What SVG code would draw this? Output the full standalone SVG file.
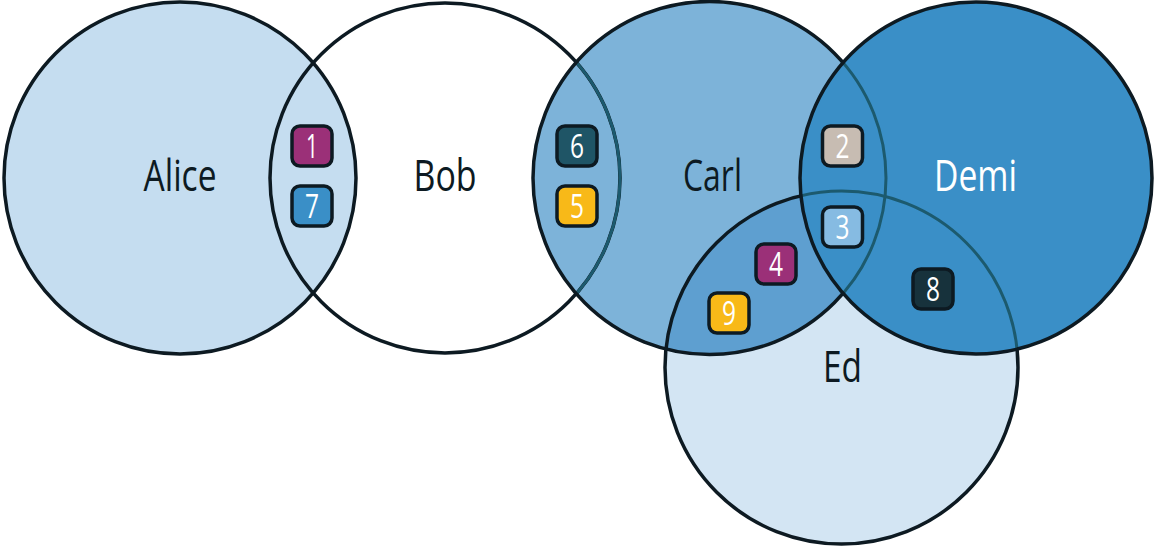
<svg xmlns="http://www.w3.org/2000/svg" width="1154" height="549" viewBox="0 0 1154 549">
<style>
.lbl{font-family:"Open Sans","DejaVu Sans",sans-serif;font-size:44px;text-anchor:middle}
.dark{fill:#0d1a22}
.light{fill:#ffffff}
.ring{fill:none;stroke:#0d1a22;stroke-width:3.5}
.under{fill:none;stroke:#1c5a6e;stroke-width:3}
.badge rect{stroke:#0d1a22;stroke-width:3.5}
.badge text{font-family:"Open Sans","DejaVu Sans",sans-serif;font-size:32px;fill:#ffffff;text-anchor:middle}
</style>
<defs>
<clipPath id="clipCarl"><circle cx="709.5" cy="178" r="176.5"/></clipPath>
<clipPath id="clipDemi"><circle cx="976" cy="178" r="176"/></clipPath>
</defs>
<rect width="1154" height="549" fill="#ffffff"/>
<g id="fills">
<circle cx="180" cy="178" r="176" fill="#c5ddf0"/>
<circle cx="709.5" cy="178" r="176.5" fill="#7db3d9"/>
<circle cx="841.5" cy="367.5" r="176.5" fill="#d3e5f3"/>
<circle cx="841.5" cy="367.5" r="176.5" fill="#5e9fd0" clip-path="url(#clipCarl)"/>
</g>
<g id="outlines">
<circle class="ring" cx="180" cy="178" r="176"/>
<circle class="ring" cx="445" cy="178" r="175"/>
<circle class="under" cx="445" cy="178" r="175" clip-path="url(#clipCarl)"/>
<circle class="ring" cx="709.5" cy="178" r="176.5"/>
<circle class="ring" cx="841.5" cy="367.5" r="176.5"/>
<circle cx="976" cy="178" r="176" fill="#3a8fc7"/>
<g clip-path="url(#clipDemi)">
<circle class="under" cx="709.5" cy="178" r="176.5"/>
<circle class="under" cx="841.5" cy="367.5" r="176.5"/>
</g>
<circle class="ring" cx="976" cy="178" r="176"/>
</g>
<g id="alice"><text class="lbl dark" x="180" y="191" textLength="73" lengthAdjust="spacingAndGlyphs">Alice</text></g>
<g id="bob"><text class="lbl dark" x="445" y="191" textLength="63" lengthAdjust="spacingAndGlyphs">Bob</text></g>
<g id="carl"><text class="lbl dark" x="712.5" y="191" textLength="59" lengthAdjust="spacingAndGlyphs">Carl</text></g>
<g id="demi"><text class="lbl light" x="975.5" y="191" textLength="83" lengthAdjust="spacingAndGlyphs">Demi</text></g>
<g id="ed"><text class="lbl dark" x="842.5" y="382" textLength="39" lengthAdjust="spacingAndGlyphs">Ed</text></g>
<g id="badge1" class="badge"><rect x="292" y="126" width="40" height="40" rx="8" fill="#9b3078"/><text x="312" y="158" textLength="12" lengthAdjust="spacingAndGlyphs">1</text></g>
<g id="badge7" class="badge"><rect x="292" y="186" width="40" height="40" rx="8" fill="#3a8fc7"/><text x="312" y="218" textLength="14" lengthAdjust="spacingAndGlyphs">7</text></g>
<g id="badge6" class="badge"><rect x="557" y="126" width="40" height="40" rx="8" fill="#1f5566"/><text x="577" y="158" textLength="14" lengthAdjust="spacingAndGlyphs">6</text></g>
<g id="badge5" class="badge"><rect x="557" y="186" width="40" height="40" rx="8" fill="#f8b918"/><text x="577" y="218" textLength="14" lengthAdjust="spacingAndGlyphs">5</text></g>
<g id="badge2" class="badge"><rect x="822.5" y="126" width="40" height="40" rx="8" fill="#c7bcb2"/><text x="842.5" y="158" textLength="14" lengthAdjust="spacingAndGlyphs">2</text></g>
<g id="badge3" class="badge"><rect x="822.5" y="207" width="40" height="40" rx="8" fill="#86bbe2"/><text x="842.5" y="239" textLength="14" lengthAdjust="spacingAndGlyphs">3</text></g>
<g id="badge4" class="badge"><rect x="756" y="244" width="40" height="40" rx="8" fill="#9b3078"/><text x="776" y="276" textLength="14" lengthAdjust="spacingAndGlyphs">4</text></g>
<g id="badge9" class="badge"><rect x="709" y="293" width="40" height="40" rx="8" fill="#f8b918"/><text x="729" y="325" textLength="14" lengthAdjust="spacingAndGlyphs">9</text></g>
<g id="badge8" class="badge"><rect x="913" y="269" width="40" height="40" rx="8" fill="#17323c"/><text x="933" y="301" textLength="14" lengthAdjust="spacingAndGlyphs">8</text></g>
</svg>
